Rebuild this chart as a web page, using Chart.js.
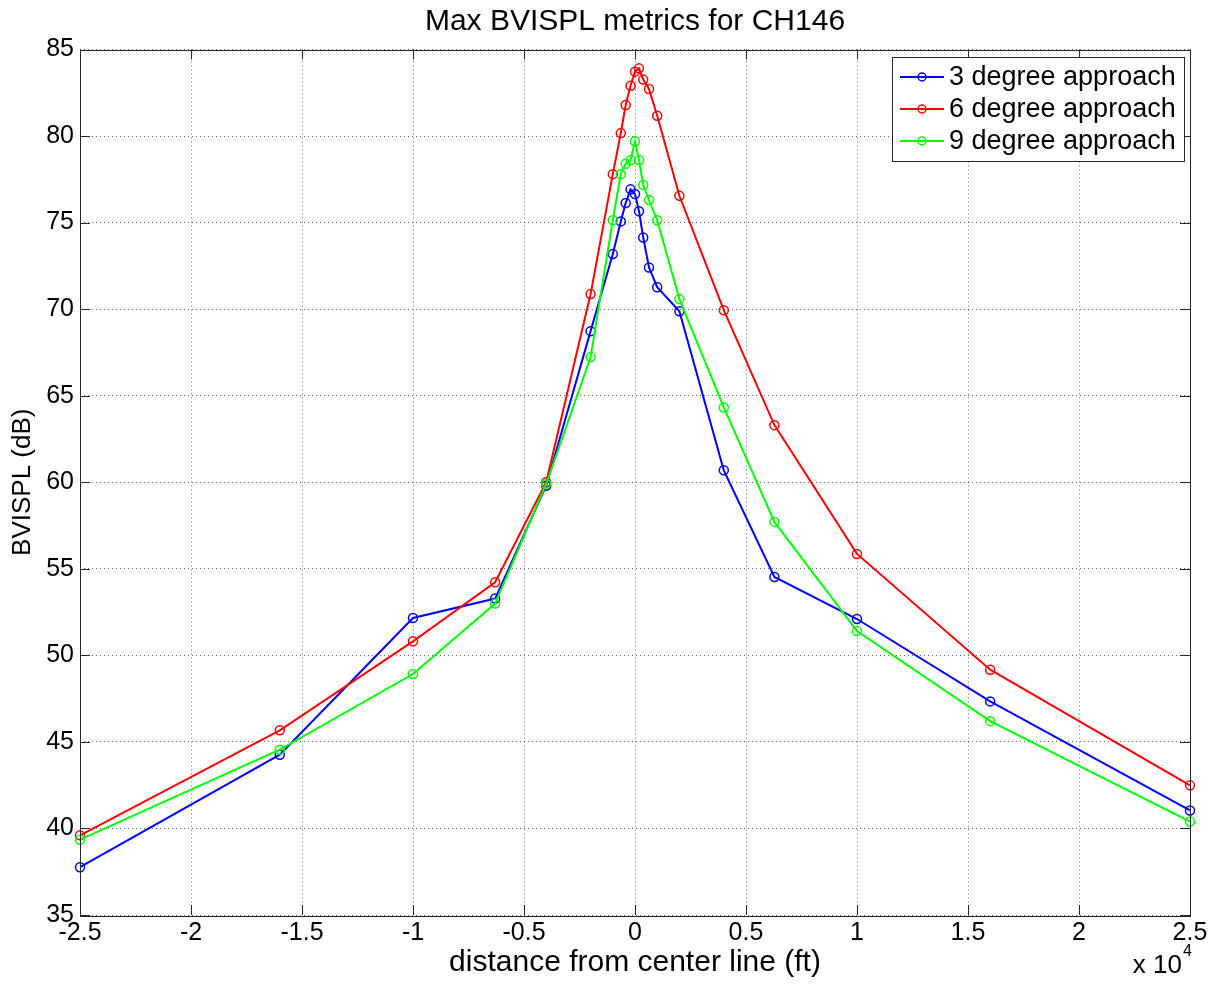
<!DOCTYPE html>
<html>
<head>
<meta charset="utf-8">
<script src="https://cdn.jsdelivr.net/npm/chart.js@4/dist/chart.umd.min.js"></script>
<style>
html,body{margin:0;padding:0;background:#fff;}
#c{display:block;}
</style>
</head>
<body>
<canvas id="c" width="1222" height="986"></canvas>
<script>
// distance from center line (ft)
const distances = [-25000,-16000,-10000,-6300,-4000,-2000,-1000,-640,-420,-200,0,180,370,630,1000,2000,4000,6280,10000,16000,25000];
const seriesLabels = ['3 degree approach','6 degree approach','9 degree approach'];
const deg3 = [37.76,44.26,52.16,53.28,59.8,68.73,73.18,75.07,76.13,76.92,76.65,75.66,74.14,72.41,71.27,69.88,60.69,54.53,52.1,47.34,41.04];
const deg6 = [39.6,45.67,50.81,54.22,60.0,70.87,77.8,80.17,81.79,82.91,83.72,83.91,83.26,82.72,81.17,76.55,69.94,63.3,55.86,49.17,42.49];
const deg9 = [39.35,44.55,48.92,52.99,59.9,67.23,75.14,77.8,78.4,78.6,79.7,78.61,77.17,76.3,75.14,70.58,64.32,57.71,51.4,46.2,40.4];
const seriesColors = ['#0000ff','#ff0000','#00ff00'];
const xTickStep = 5000, xMin = -25000, xMax = 25000;
const yMin = 35, yMax = 85, yTickStep = 5;
const chartTitle = 'Max BVISPL metrics for CH146';

const FONT = '"Liberation Sans", Arial, Helvetica, sans-serif';

function toPts(ys){ return ys.map((y,i)=>({x:distances[i], y})); }
const allSeries = [deg3, deg6, deg9];

const datasets = allSeries.map((ys,i)=>({
  label: seriesLabels[i],
  data: toPts(ys),
  borderColor: seriesColors[i],
  backgroundColor: 'rgba(0,0,0,0)',
  pointBorderColor: seriesColors[i],
  pointBackgroundColor: 'rgba(0,0,0,0)',
  pointRadius: 4.5,
  pointBorderWidth: 1.5,
  pointHoverRadius: 4.5,
  borderWidth: 2,
  tension: 0,
  clip: false,
  order: 3 - i
}));

const framePlugin = {
  id: 'frame',
  afterDraw(chart){
    const ctx = chart.ctx;
    const a = chart.chartArea;
    const xs = chart.scales.x, ys = chart.scales.y;
    ctx.save();
    // title centred on the plot box
    ctx.fillStyle = '#000';
    ctx.font = '30px ' + FONT;
    ctx.textAlign = 'center';
    ctx.textBaseline = 'middle';
    ctx.fillText(chartTitle, (a.left + a.right) / 2, 22);

    ctx.strokeStyle = '#262626';
    ctx.lineWidth = 1;
    ctx.setLineDash([]);
    // box
    ctx.strokeRect(Math.round(a.left)+0.5, Math.round(a.top)+0.5, Math.round(a.right-a.left), Math.round(a.bottom-a.top));
    // inward ticks
    const tl = 10;
    ctx.beginPath();
    xs.ticks.forEach(t=>{
      const p = Math.round(xs.getPixelForValue(t.value))+0.5;
      ctx.moveTo(p, a.bottom); ctx.lineTo(p, a.bottom - tl);
      ctx.moveTo(p, a.top); ctx.lineTo(p, a.top + tl);
    });
    ys.ticks.forEach(t=>{
      const p = Math.round(ys.getPixelForValue(t.value))+0.5;
      ctx.moveTo(a.left, p); ctx.lineTo(a.left + tl, p);
      ctx.moveTo(a.right, p); ctx.lineTo(a.right - tl, p);
    });
    ctx.stroke();

    // exponent label
    ctx.fillStyle = '#000';
    ctx.textBaseline = 'alphabetic';
    ctx.textAlign = 'right';
    ctx.font = '26px ' + FONT;
    ctx.fillText('x 10', a.right - 8, 973);
    ctx.textAlign = 'left';
    ctx.font = '16px ' + FONT;
    ctx.fillText('4', a.right - 7, 956);

    // legend
    const lx = 892, ly = 57, lw = 292, lh = 104;
    ctx.fillStyle = '#fff';
    ctx.fillRect(lx, ly, lw, lh);
    ctx.strokeStyle = '#262626';
    ctx.lineWidth = 1;
    ctx.strokeRect(lx+0.5, ly+0.5, lw, lh);
    const rows = [77, 109, 141];
    chart.data.datasets.forEach((ds,i)=>{
      const y = rows[i];
      ctx.strokeStyle = ds.borderColor;
      ctx.lineWidth = 2;
      ctx.beginPath(); ctx.moveTo(900, y); ctx.lineTo(944, y); ctx.stroke();
      ctx.lineWidth = 1.5;
      ctx.beginPath(); ctx.arc(922, y, 4, 0, Math.PI*2); ctx.stroke();
      ctx.fillStyle = '#000';
      ctx.font = '27px ' + FONT;
      ctx.textAlign = 'left';
      ctx.textBaseline = 'middle';
      ctx.fillText(ds.label, 949, y + 1);
    });
    ctx.restore();
  }
};

new Chart(document.getElementById('c'), {
  type: 'line',
  data: { datasets },
  plugins: [framePlugin],
  options: {
    responsive: false,
    devicePixelRatio: 1,
    animation: false,
    events: [],
    layout: { padding: { left: 0, right: 32, top: 49.5, bottom: 0 } },
    plugins: {
      legend: { display: false },
      tooltip: { enabled: false },
      title: { display: false }
    },
    scales: {
      x: {
        type: 'linear',
        min: xMin, max: xMax,
        afterFit(s){ s.height = 71; },
        ticks: {
          stepSize: xTickStep,
          color: '#000',
          padding: 3,
          maxRotation: 0,
          autoSkip: false,
          font: { family: FONT, size: 25 },
          callback: v => String(Math.round(v/1000)/10)
        },
        grid: { color: 'rgba(0,0,0,0.6)', lineWidth: 1, drawTicks: false },
        border: { display: false, dash: [1,3] },
        title: {
          display: true,
          text: 'distance from center line (ft)',
          color: '#000',
          font: { family: FONT, size: 30, lineHeight: 1.2 },
          padding: { top: 0, bottom: 5 }
        }
      },
      y: {
        type: 'linear',
        min: yMin, max: yMax,
        afterFit(s){ s.width = 80; },
        ticks: {
          stepSize: yTickStep,
          color: '#000',
          padding: 6,
          font: { family: FONT, size: 25 }
        },
        grid: { color: 'rgba(0,0,0,0.6)', lineWidth: 1, drawTicks: false },
        border: { display: false, dash: [1,3] },
        title: {
          display: true,
          text: 'BVISPL (dB)',
          color: '#000',
          font: { family: FONT, size: 26, lineHeight: 1.2 },
          padding: { top: 7, bottom: 0 }
        }
      }
    }
  }
});
</script>
</body>
</html>
